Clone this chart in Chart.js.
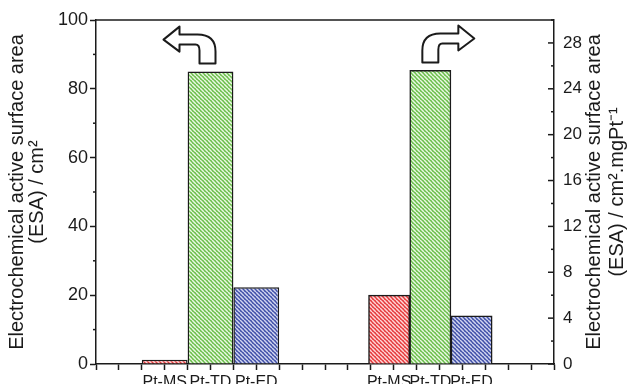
<!DOCTYPE html>
<html>
<head>
<meta charset="utf-8">
<script src="https://cdn.jsdelivr.net/npm/chart.js@4.4.1/dist/chart.umd.min.js"></script>
<style>
  html, body { margin: 0; padding: 0; background: #fff; }
  canvas { display: block; }
</style>
</head>
<body>
<canvas id="esaChart" width="635" height="384"></canvas>
<script>
// sample names, same order in both groups
var categories = ['Pt-MS', 'Pt-TD', 'Pt-ED'];
// left group, read on the left axis (cm2)
var esaArea = [1.2, 85, 22.3];
// right group, read on the right axis (cm2.mgPt-1)
var esaMass = [6.0, 25.6, 4.2];
// where each group sits along the bottom axis (0..20)
var areaX = [3, 5, 7];
var massX = [12.8, 14.6, 16.4];
var leftTicks = [0, 20, 40, 60, 80, 100];
var rightTicks = [0, 4, 8, 12, 16, 20, 24, 28];

var ink = '#1b1b1b';
var font = '"Liberation Sans", Arial, sans-serif';

function hatch(base, line) {
  var c = document.createElement('canvas');
  c.width = 4; c.height = 4;
  var g = c.getContext('2d');
  g.fillStyle = base;
  g.fillRect(0, 0, 4, 4);
  g.strokeStyle = line;
  g.lineWidth = 1.5;
  for (var k = -1; k <= 1; k++) {
    g.beginPath();
    g.moveTo(k * 4, 0);
    g.lineTo(k * 4 + 4, 4);
    g.stroke();
  }
  return g.createPattern(c, 'repeat');
}

var fills = [
  hatch('#e53a3c', '#ffd6d6'),
  hatch('#6bbf4b', '#eaf8e3'),
  hatch('#4050a8', '#d2d6f0')
];

function bentArrow(ctx, x0, y0, dir) {
  function p(x, y) { return [x0 + dir * x, y0 + y]; }
  var pts;
  ctx.save();
  ctx.beginPath();
  pts = p(-8, 0); ctx.moveTo(pts[0], pts[1]);
  pts = p(-8, -12); ctx.lineTo(pts[0], pts[1]);
  var c1 = p(-8, -29), e1 = p(10, -29);
  ctx.quadraticCurveTo(c1[0], c1[1], e1[0], e1[1]);
  pts = p(28, -29); ctx.lineTo(pts[0], pts[1]);
  pts = p(28, -37); ctx.lineTo(pts[0], pts[1]);
  pts = p(44, -24); ctx.lineTo(pts[0], pts[1]);
  pts = p(28, -12); ctx.lineTo(pts[0], pts[1]);
  pts = p(28, -19); ctx.lineTo(pts[0], pts[1]);
  pts = p(12, -19); ctx.lineTo(pts[0], pts[1]);
  var c2 = p(8, -19), e2 = p(8, -13);
  ctx.quadraticCurveTo(c2[0], c2[1], e2[0], e2[1]);
  pts = p(8, 0); ctx.lineTo(pts[0], pts[1]);
  ctx.closePath();
  ctx.fillStyle = '#fff';
  ctx.fill();
  ctx.lineWidth = 2;
  ctx.lineJoin = 'round';
  ctx.strokeStyle = ink;
  ctx.stroke();
  ctx.restore();
}

var extras = {
  id: 'extras',
  afterDraw: function (chart) {
    var ctx = chart.ctx;
    var area = chart.chartArea;
    var yl = chart.scales.y, yr = chart.scales.y1;
    ctx.save();
    ctx.strokeStyle = ink;
    ctx.lineWidth = 1.5;
    // top frame line
    ctx.beginPath();
    ctx.moveTo(area.left, area.top);
    ctx.lineTo(area.right, area.top);
    ctx.stroke();
    // minor ticks on the left axis (outside)
    for (var i = 0; i < leftTicks.length - 1; i++) {
      var v = (leftTicks[i] + leftTicks[i + 1]) / 2;
      var py = yl.getPixelForValue(v);
      ctx.beginPath();
      ctx.moveTo(area.left - 3, py);
      ctx.lineTo(area.left, py);
      ctx.stroke();
    }
    // right axis ticks point inward
    rightTicks.forEach(function (t) {
      var py = yr.getPixelForValue(t);
      ctx.beginPath();
      ctx.moveTo(area.right - 6, py);
      ctx.lineTo(area.right, py);
      ctx.stroke();
      var m = yr.getPixelForValue(t + 2);
      ctx.beginPath();
      ctx.moveTo(area.right - 3, m);
      ctx.lineTo(area.right, m);
      ctx.stroke();
    });
    // right axis title reads bottom to top
    ctx.translate(yr.left + 40, (area.top + area.bottom) / 2);
    ctx.rotate(-Math.PI / 2);
    ctx.fillStyle = ink;
    ctx.font = '20px ' + font;
    ctx.textAlign = 'center';
    ctx.textBaseline = 'middle';
    ctx.fillText('Electrochemical active surface area', 0, 0);
    ctx.fillText('(ESA) / cm\u00b2.mgPt\u207b\u00b9', 0, 23);
    ctx.restore();

    // arrows pointing to each group's axis
    var a = chart.getDatasetMeta(0).data[1];
    var b = chart.getDatasetMeta(1).data[1];
    bentArrow(ctx, a.x - 3, a.y - 8, -1);
    bentArrow(ctx, b.x, b.y - 8, 1);
  }
};

var allX = areaX.concat(massX);
var allLabels = categories.concat(categories);

new Chart(document.getElementById('esaChart'), {
  type: 'bar',
  data: {
    datasets: [{
      label: 'ESA / cm2',
      data: esaArea.map(function (v, i) { return { x: areaX[i], y: v }; }),
      xAxisID: 'xl',
      yAxisID: 'y',
      backgroundColor: fills,
      borderColor: ink,
      borderWidth: 1.5,
      categoryPercentage: 1,
      barPercentage: 2 / 1.8
    }, {
      label: 'ESA / cm2.mgPt-1',
      data: esaMass.map(function (v, i) { return { x: massX[i], y: v }; }),
      xAxisID: 'xl',
      yAxisID: 'y1',
      backgroundColor: fills,
      borderColor: ink,
      borderWidth: 1.5,
      categoryPercentage: 1,
      barPercentage: 1
    }]
  },
  options: {
    responsive: false,
    animation: false,
    grouped: false,
    layout: { padding: { top: 20, left: 0, right: 0, bottom: 0 } },
    plugins: { legend: { display: false }, tooltip: { enabled: false } },
    scales: {
      x: {
        type: 'linear', position: 'bottom', min: 0, max: 20, weight: 0, offset: false,
        ticks: { display: false, stepSize: 1 },
        grid: { offset: false, drawOnChartArea: false, drawTicks: true, tickLength: 6, tickColor: ink, tickWidth: 1.5 },
        border: { color: ink, width: 1.5 },
        afterFit: function (s) { s.height = 6; }
      },
      xl: {
        type: 'linear', position: 'bottom', min: 0, max: 20, weight: 1, offset: false,
        afterBuildTicks: function (s) { s.ticks = allX.map(function (v) { return { value: v }; }); },
        ticks: {
          autoSkip: false, maxRotation: 0, padding: -5, color: ink,
          font: { family: font, size: 16 },
          callback: function (v, i) { return allLabels[i]; }
        },
        grid: { display: false, offset: false },
        border: { display: false },
        afterFit: function (s) { s.height = 14; }
      },
      y: {
        position: 'left', min: 0, max: 100,
        afterBuildTicks: function (s) { s.ticks = leftTicks.map(function (v) { return { value: v }; }); },
        ticks: { color: ink, padding: 2, font: { family: font, size: 18 } },
        grid: { drawOnChartArea: false, tickLength: 6, tickColor: ink, tickWidth: 1.5 },
        border: { color: ink, width: 1.5 },
        title: {
          display: true,
          text: ['Electrochemical active surface area', '(ESA) / cm\u00b2'],
          color: ink,
          font: { family: font, size: 20, lineHeight: 1.0 },
          padding: { top: 7, bottom: 0 }
        },
        afterFit: function (s) { s.width = 96; }
      },
      y1: {
        position: 'right', min: 0, max: 30,
        afterBuildTicks: function (s) { s.ticks = rightTicks.map(function (v) { return { value: v }; }); },
        ticks: { color: ink, padding: 9, font: { family: font, size: 17 } },
        grid: { drawOnChartArea: false, drawTicks: false },
        border: { color: ink, width: 1.5 },
        afterFit: function (s) { s.width = 81; }
      }
    }
  },
  plugins: [extras]
});
</script>
</body>
</html>
